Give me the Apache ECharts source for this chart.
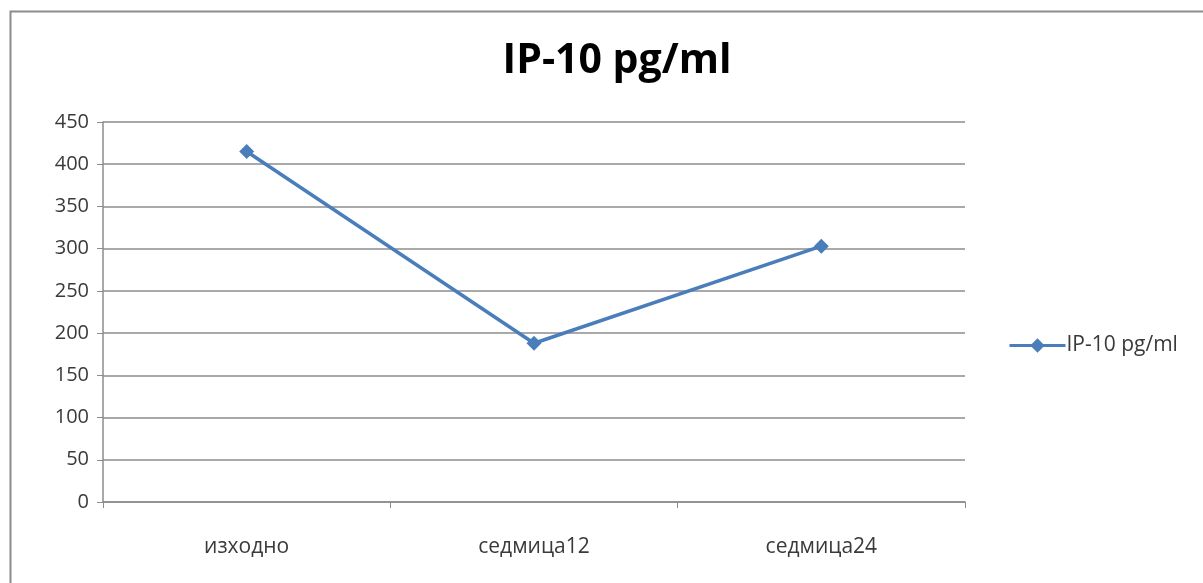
<!DOCTYPE html>
<html>
<head>
<meta charset="utf-8">
<script src="https://cdn.jsdelivr.net/npm/echarts@6/dist/echarts.min.js"></script>
<style>
  html, body { margin: 0; padding: 0; background: #ffffff; }
  #chart { width: 1203px; height: 583px; }
</style>
</head>
<body>
<div id="chart"></div>
<script>
// IP-10 concentration at baseline, week 12 and week 24
const chartTitle = 'IP-10 pg/ml';
const seriesName = 'IP-10 pg/ml';
const categories = ['изходно', 'седмица12', 'седмица24'];
const ip10Values = [415, 188, 303];
const yTicks = [0, 50, 100, 150, 200, 250, 300, 350, 400, 450];

const lineColor = '#4A7EBB';
const textColor = '#3a3a3a';
const fontFamily = '"Open Sans", "Noto Sans", sans-serif';

const chart = echarts.init(document.getElementById('chart'), null, { renderer: 'canvas' });

chart.setOption({
  backgroundColor: '#ffffff',
  animation: false,
  graphic: [{
    type: 'rect',
    left: 8, top: 9,
    shape: { width: 1400, height: 800 },
    style: { fill: 'none', stroke: '#8c8c8c', lineWidth: 2 },
    silent: true,
    z: -10
  }],
  title: {
    text: chartTitle,
    left: 612,
    top: 36,
    textAlign: 'center',
    textStyle: { fontFamily: fontFamily, fontSize: 41, fontWeight: 'bold', color: '#000000' }
  },
  legend: {
    left: 1003,
    top: 330,
    itemWidth: 56,
    itemHeight: 18,
    itemGap: 4,
    data: [seriesName],
    lineStyle: { width: 3 },
    textStyle: { fontFamily: fontFamily, fontSize: 21, color: textColor, padding: [0, 0, 0, -4] }
  },
  grid: { left: 103, right: 238, top: 122, bottom: 81, containLabel: false },
  xAxis: {
    type: 'category',
    data: categories,
    boundaryGap: true,
    axisLine: { lineStyle: { color: '#8c8c8c', width: 1.5 } },
    axisTick: { show: true, length: 6, lineStyle: { color: '#8c8c8c' } },
    axisLabel: { margin: 35, fontFamily: fontFamily, fontSize: 21, color: textColor }
  },
  yAxis: {
    type: 'value',
    min: yTicks[0],
    max: yTicks[yTicks.length - 1],
    interval: yTicks[1] - yTicks[0],
    axisLine: { show: true, lineStyle: { color: '#8c8c8c', width: 1.5 } },
    axisTick: { show: true, length: 6, lineStyle: { color: '#8c8c8c' } },
    axisLabel: { margin: 14, fontFamily: fontFamily, fontSize: 20, color: textColor },
    splitLine: { show: true, lineStyle: { color: '#8c8c8c', width: 1.5 } }
  },
  series: [{
    name: seriesName,
    type: 'line',
    data: ip10Values,
    symbol: 'diamond',
    symbolSize: 15,
    lineStyle: { color: lineColor, width: 3.5 },
    itemStyle: { color: lineColor }
  }]
});
</script>
</body>
</html>
